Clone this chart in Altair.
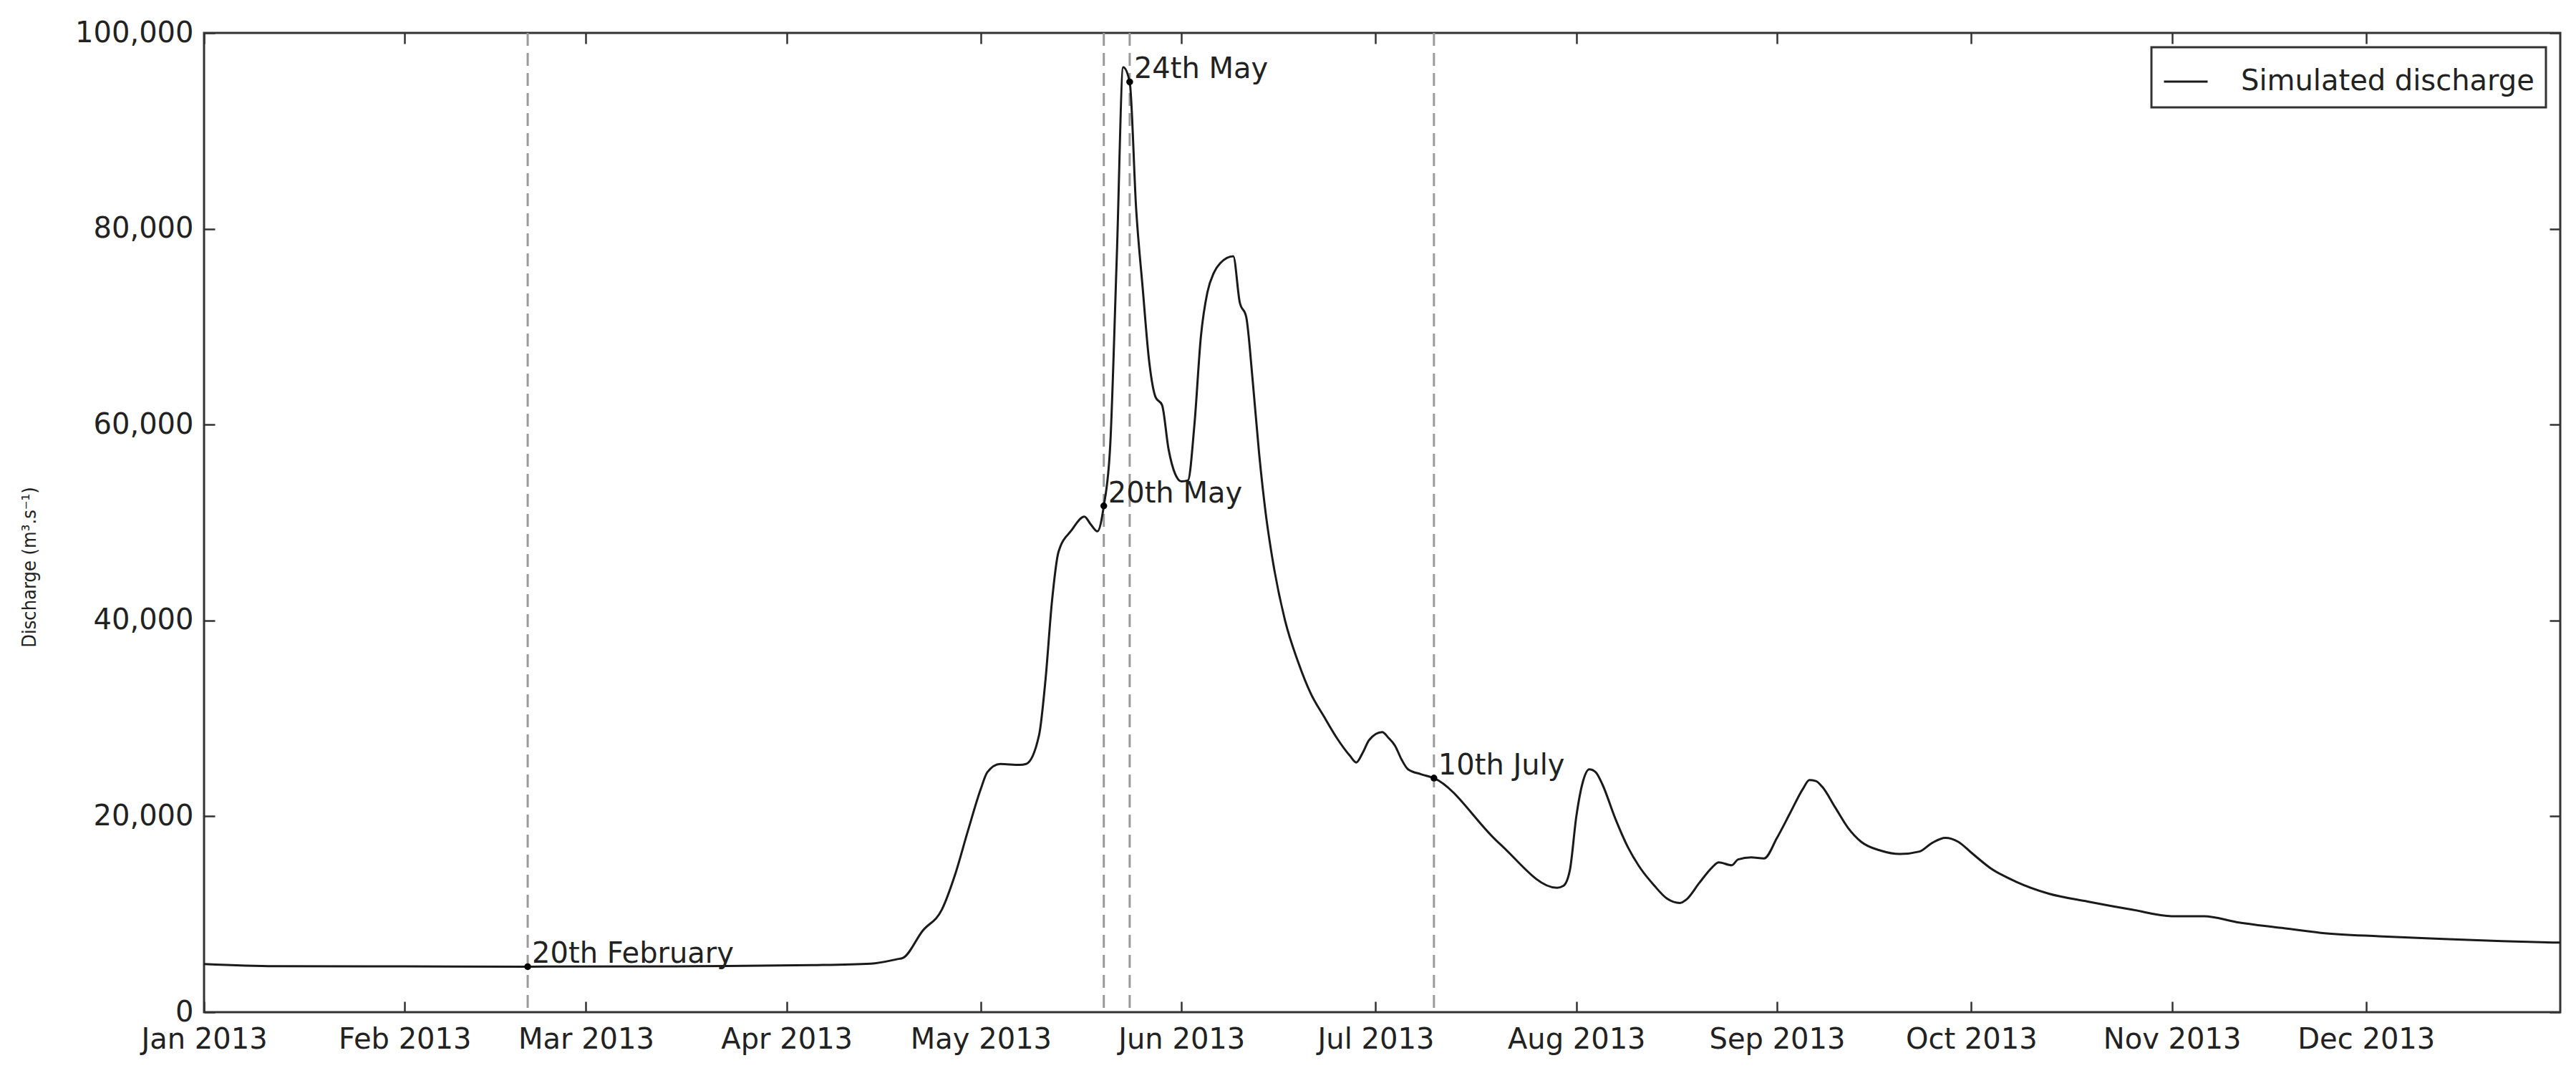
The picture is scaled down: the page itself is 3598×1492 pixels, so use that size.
import altair as alt
import pandas as pd

# ---- data ----
dates = [
    "2013-01-01", "2013-01-12", "2013-02-01", "2013-02-20", "2013-03-15", "2013-04-05",
    "2013-04-14", "2013-04-18", "2013-04-19", "2013-04-22", "2013-04-25", "2013-04-27",
    "2013-04-29", "2013-05-01", "2013-05-02", "2013-05-04", "2013-05-07", "2013-05-08",
    "2013-05-10", "2013-05-11", "2013-05-12", "2013-05-13", "2013-05-15", "2013-05-17",
    "2013-05-18", "2013-05-19", "2013-05-20", "2013-05-21", "2013-05-22", "2013-05-23",
    "2013-05-24", "2013-05-25", "2013-05-26", "2013-05-27", "2013-05-28", "2013-05-29",
    "2013-05-30", "2013-05-31", "2013-06-01", "2013-06-02", "2013-06-03", "2013-06-04",
    "2013-06-05", "2013-06-06", "2013-06-07", "2013-06-09", "2013-06-10", "2013-06-11",
    "2013-06-12", "2013-06-13", "2013-06-14", "2013-06-15", "2013-06-17", "2013-06-19",
    "2013-06-21", "2013-06-23", "2013-06-25", "2013-06-27", "2013-06-28", "2013-06-29",
    "2013-06-30", "2013-07-02", "2013-07-03", "2013-07-04", "2013-07-05", "2013-07-06",
    "2013-07-08", "2013-07-10", "2013-07-20", "2013-07-29", "2013-07-30", "2013-07-31",
    "2013-08-01", "2013-08-02", "2013-08-03", "2013-08-04", "2013-08-05", "2013-08-07",
    "2013-08-09", "2013-08-11", "2013-08-13", "2013-08-15", "2013-08-17", "2013-08-18",
    "2013-08-20", "2013-08-22", "2013-08-23", "2013-08-25", "2013-08-26", "2013-08-28",
    "2013-08-30", "2013-09-01", "2013-09-03", "2013-09-05", "2013-09-06", "2013-09-07",
    "2013-09-08", "2013-09-10", "2013-09-12", "2013-09-14", "2013-09-17", "2013-09-20",
    "2013-09-23", "2013-09-25", "2013-09-27", "2013-09-29", "2013-10-01", "2013-10-04",
    "2013-10-08", "2013-10-13", "2013-10-19", "2013-10-26", "2013-11-01", "2013-11-06",
    "2013-11-11", "2013-11-18", "2013-11-24", "2013-12-03", "2013-12-13", "2013-12-22",
    "2013-12-31",
]
discharge = [
    4920, 4700, 4680, 4650, 4680, 4800,
    4950, 5400, 5550, 8300, 10500, 14000,
    18500, 22800, 24500, 25350, 25250, 25350,
    28300, 34000, 42000, 47000, 49200, 50600,
    49800, 49100, 51700, 58000, 77000, 96500,
    95000, 82000, 74000, 66500, 62800, 62000,
    57500, 55000, 54200, 54300, 60000, 69000,
    73500, 75500, 76500, 77200, 72500, 71000,
    64500, 57000, 51000, 46500, 40000, 35800,
    32500, 30200, 28000, 26200, 25500, 26500,
    27800, 28600, 28000, 27200, 25800, 24800,
    24300, 23900, 17300, 12700, 12900, 14500,
    20000, 23500, 24800, 24500, 23300, 19800,
    16800, 14600, 12960, 11600, 11150, 11500,
    13200, 14800, 15300, 15000, 15600, 15800,
    15700, 17800, 20300, 22800, 23700, 23600,
    23000, 20900, 18800, 17400, 16500, 16150,
    16400, 17300, 17800, 17400, 16300, 14700,
    13300, 12100, 11300, 10450, 9800, 9800,
    9200, 8600, 8100, 7750, 7480, 7250,
    7100,
]
series_name = "Simulated discharge"

event_dates = ["2013-02-20", "2013-05-20", "2013-05-24", "2013-07-10"]
event_values = [4650, 51700, 95000, 23900]
event_labels = ["20th February", "20th May", "24th May", "10th July"]

y_ticks = [0, 20000, 40000, 60000, 80000, 100000]

df = pd.DataFrame({
    "date": [d + "T00:00:00" for d in dates],
    "discharge": discharge,
    "series": series_name,
})
ev = pd.DataFrame({
    "date": [d + "T00:00:00" for d in event_dates],
    "discharge": event_values,
    "label": event_labels,
})

# ---- layout ----
W, H = 3291, 1368
TICK = 15
FONT = "DejaVu Sans"

x_scale = alt.Scale(domain=[alt.DateTime(year=2013, month=1, date=1),
                            alt.DateTime(year=2013, month=12, date=31)])
y_scale = alt.Scale(domain=[0, 100000], nice=False)

x_axis = alt.Axis(
    format="%b %Y",
    tickCount={"interval": "month", "step": 1},
    grid=True, gridDash=[TICK, H - 2 * TICK, TICK, 5000],
    gridColor="#333333", gridWidth=2.5, gridOpacity=1,
    ticks=False, domain=False,
    labelPadding=18, labelFlush=False, labelOverlap=False, labelLimit=0,
    title=None,
)
y_axis = alt.Axis(
    values=y_ticks, format=",.0f",
    grid=True, gridDash=[TICK, W - 2 * TICK, TICK, 6000],
    gridColor="#333333", gridWidth=2.5, gridOpacity=1,
    ticks=False, domain=False,
    labelPadding=15, labelLimit=0,
    title="Discharge (m³.s⁻¹)",
    titleFont="DejaVu Sans Condensed, DejaVu Sans", titleFontSize=27,
    titleFontWeight="normal", titleColor="#222222",
    titleAngle=270, titleX=-244, titleY=746,
    titleAlign="center", titleBaseline="middle",
)

x_enc = alt.X("date:T", scale=x_scale, axis=x_axis)
y_enc = alt.Y("discharge:Q", scale=y_scale, axis=y_axis)

rules = alt.Chart(ev).mark_rule(
    strokeDash=[18, 10], color="#9a9a9a", strokeWidth=3
).encode(x=x_enc)

line = alt.Chart(df).mark_line(strokeWidth=3, interpolate="monotone").encode(
    x=x_enc,
    y=y_enc,
    color=alt.Color(
        "series:N",
        scale=alt.Scale(range=["#1a1a1a"]),
        legend=alt.Legend(
            title=None, orient="top-right", offset=20,
            symbolType="stroke", symbolSize=3721, symbolStrokeWidth=3,
            labelFontSize=40, labelFont=FONT, labelColor="#222222",
            labelOffset=45, labelLimit=0, padding=16,
            strokeColor="#333333", fillColor="white",
        ),
    ),
)

points = alt.Chart(ev).mark_circle(size=90, color="black", opacity=1).encode(
    x=x_enc, y=y_enc
)

labels = alt.Chart(ev).mark_text(
    align="left", baseline="alphabetic", dx=6, dy=-5,
    fontSize=40, font=FONT, color="#222222",
).encode(x=x_enc, y=y_enc, text="label:N")

chart = alt.layer(rules, line, points, labels).properties(
    width=W, height=H,
    padding={"left": 277, "top": 38, "right": 10, "bottom": 60},
    autosize=alt.AutoSizeParams(type="none"),
).configure_view(
    stroke="#333333", strokeWidth=3
).configure_axis(
    labelFontSize=40, labelFont=FONT, labelColor="#222222"
).configure_legend(
    strokeWidth=3
)

chart.save("out.html", embed_options={"renderer": "svg", "actions": False})
